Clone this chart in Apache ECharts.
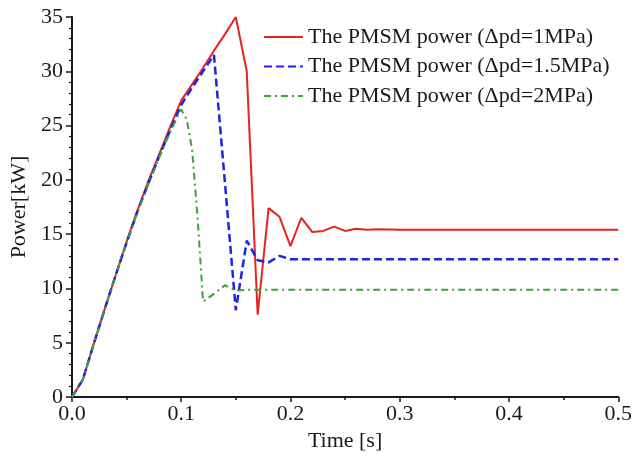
<!DOCTYPE html>
<html>
<head>
<meta charset="utf-8">
<script src="https://cdn.jsdelivr.net/npm/echarts@6/dist/echarts.min.js"></script>
<style>
html,body{margin:0;padding:0;background:#fff;}
#chart{width:635px;height:457px;}
</style>
</head>
<body>
<div id="chart"></div>
<script>
var seriesNames = ['The PMSM power (\u0394pd=1MPa)', 'The PMSM power (\u0394pd=1.5MPa)', 'The PMSM power (\u0394pd=2MPa)'];

var timeRed  = [0,0.01,0.02,0.03,0.04,0.05,0.06,0.07,0.08,0.09,0.1,0.11,0.12,0.13,0.14,0.15,0.16,0.17,0.18,0.19,0.2,0.21,0.22,0.23,0.24,0.25,0.26,0.27,0.28,0.3,0.5];
var powerRed = [0,1.6,4.9,8.1,11.2,14.3,17.2,19.9,22.4,24.9,27.3,28.8,30.3,31.9,33.4,35.0,30.0,7.6,17.4,16.6,13.9,16.5,15.2,15.3,15.7,15.3,15.5,15.4,15.45,15.4,15.4];

var timeBlue  = [0,0.01,0.02,0.03,0.04,0.05,0.06,0.07,0.08,0.09,0.1,0.11,0.12,0.13,0.14,0.15,0.16,0.17,0.18,0.19,0.2,0.5];
var powerBlue = [0,1.6,4.9,8.1,11.2,14.2,17.1,19.7,22.2,24.6,26.9,28.5,30.0,31.5,19.8,8.0,14.4,12.6,12.4,13.0,12.7,12.7];

var timeGreen  = [0,0.01,0.02,0.03,0.04,0.05,0.06,0.07,0.08,0.09,0.1,0.105,0.11,0.115,0.12,0.13,0.14,0.15,0.16,0.5];
var powerGreen = [0,1.6,4.9,8.1,11.2,14.2,17.0,19.6,22.1,24.4,26.5,25.6,22.8,16.6,8.8,9.5,10.3,9.8,9.88,9.88];

var xTicks = {min:0, max:0.5, interval:0.1};
var yTicks = {min:0, max:35, interval:5};

function pairs(t, p){ return t.map(function(v,i){ return [v, p[i]]; }); }

var font = 'Liberation Serif';
var axisColor = '#1a1a1a';
var chart = echarts.init(document.getElementById('chart'));
chart.setOption({
  animation:false,
  backgroundColor:'#fff',
  grid:{left:66, right:15, top:17, bottom:50},
  legend:{
    orient:'vertical', left:258, top:21,
    itemWidth:39, itemHeight:14, itemGap:7.5,
    itemStyle:{opacity:0},
    textStyle:{fontFamily:font, fontSize:22, color:'#1a1a1a'},
    data:seriesNames
  },
  xAxis:{
    type:'value', min:xTicks.min, max:xTicks.max, interval:xTicks.interval,
    name:'Time [s]', nameLocation:'middle', nameGap:24,
    nameTextStyle:{fontFamily:font, fontSize:22, color:'#1a1a1a'},
    axisLine:{lineStyle:{color:axisColor, width:2}},
    axisTick:{length:5, lineStyle:{color:axisColor, width:1.5}},
    minorTick:{show:true, splitNumber:2, length:3, lineStyle:{color:axisColor, width:1.5}},
    splitLine:{show:false},
    axisLabel:{fontFamily:font, fontSize:22, color:'#1a1a1a', margin:6,
      formatter:function(v){ return v.toFixed(1); }}
  },
  yAxis:{
    type:'value', min:yTicks.min, max:yTicks.max, interval:yTicks.interval,
    name:'Power[kW]', nameLocation:'middle', nameGap:34, nameRotate:90,
    nameTextStyle:{fontFamily:font, fontSize:22, color:'#1a1a1a'},
    axisLine:{show:true, lineStyle:{color:axisColor, width:2}},
    axisTick:{show:true, length:6, lineStyle:{color:axisColor, width:1.5}},
    minorTick:{show:true, splitNumber:5, length:3, lineStyle:{color:axisColor, width:1.2}},
    splitLine:{show:false},
    axisLabel:{fontFamily:font, fontSize:22, color:'#1a1a1a', margin:9}
  },
  series:[
    {name:seriesNames[0], type:'line', symbol:'none', data:pairs(timeRed, powerRed),
     color:'#e52421', lineStyle:{color:'#e52421', width:2}},
    {name:seriesNames[1], type:'line', symbol:'none', data:pairs(timeBlue, powerBlue),
     color:'#2121e8', lineStyle:{color:'#2121e8', width:2.5, type:[8,4]}},
    {name:seriesNames[2], type:'line', symbol:'none', data:pairs(timeGreen, powerGreen),
     color:'#3aa33a', lineStyle:{color:'#3aa33a', width:2, type:[7,4,2,4]}}
  ]
});
</script>
</body>
</html>
